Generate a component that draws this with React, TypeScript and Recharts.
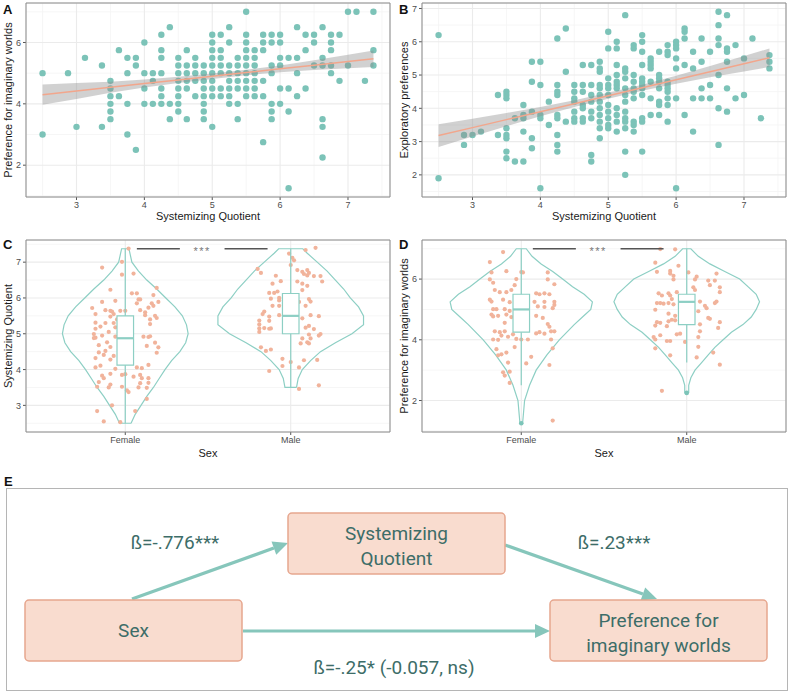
import React from "react"
import {
  ComposedChart,
  Scatter,
  Line,
  Area,
  XAxis,
  YAxis,
  CartesianGrid,
  ReferenceArea,
  ReferenceLine,
} from "recharts"

const FONT = '"Liberation Sans", Arial, Helvetica, sans-serif'
const TEAL = "#7cc3b8"
const SALMON = "#f1b39b"
const FIT_LINE = "#f2a68c"
const VIOLIN = "#8dcfc4"
const GRID = "#ebebeb"
const GRID_MINOR = "#f4f4f4"
const BORDER = "#8c8c8c"
const TICK_TEXT = "#4d4d4d"
const TITLE = "#1a1a1a"

// ---- panels A / B : shared x axis (Systemizing Quotient)
const sqTicks = [3, 4, 5, 6, 7]
const sqMinor = [2.5, 3.5, 4.5, 5.5, 6.5, 7.5]
const sqDomain: [number, number] = [2.256, 7.619]

// A: preference for imaginary worlds, columns of [SQ, values]
const colsA: [number, number[]][] = [
  [2.5, [5, 3]],
  [2.875, [5]],
  [3, [3.25]],
  [3.125, [5.5]],
  [3.375, [5.25, 3.25]],
  [3.5, [4.75, 4.5, 4.25, 4, 3.75, 3.5]],
  [3.625, [5.75, 4.25]],
  [3.75, [5.5, 5, 4, 3]],
  [3.875, [5.5, 5.25, 2.5]],
  [4, [6, 5, 4.5, 4]],
  [4.125, [5, 4.75, 4]],
  [4.25, [6.25, 5.75, 5.5, 5, 4.5, 4.25, 4]],
  [4.375, [6.5, 4, 3.5]],
  [4.5, [5.5, 5.25, 5, 4.75, 4.5, 4.25, 4, 3.75]],
  [4.625, [5.75, 5.25, 5, 4.75, 4.5, 3.5]],
  [4.75, [5.5, 5.25, 5, 4.75, 4.25]],
  [4.875, [5.25, 5, 4.75, 4.5, 4.25, 4, 3.75, 3.5]],
  [5, [6.25, 6, 5.75, 5.5, 5.25, 5, 4.75, 4.5, 4.25, 3.25]],
  [5.125, [6.25, 5.75, 5.5, 5.25, 5, 4.5, 4.25]],
  [5.25, [6.5, 6, 5.25, 5, 4.75, 4.5, 4.25, 4]],
  [5.375, [5.5, 5.25, 5, 4.75, 4.5, 4, 3.5]],
  [5.5, [7, 6.25, 6, 5.75, 5.5, 5.25, 5, 4.75, 4.5, 4.25]],
  [5.625, [5.75, 5.5, 5.25, 5, 4.75, 4.5, 4.25]],
  [5.75, [6.25, 6, 5.75, 4.75, 4.25, 2.75]],
  [5.875, [6.25, 6, 5.25, 5, 4, 3.75, 3.5]],
  [6, [6.25, 6, 5.5, 5.25, 4.5, 4]],
  [6.125, [5.5, 4.5, 3.75, 1.25]],
  [6.25, [6.5, 5.5, 5, 4.25]],
  [6.375, [6.25, 5.75, 4.5]],
  [6.5, [6.25, 6, 5.25]],
  [6.625, [6.5, 5.5, 5.25, 3.5, 3.25, 2.25]],
  [6.75, [6.25, 6, 5.75, 5.25, 5]],
  [6.875, [6.25, 4.75]],
  [7, [7, 5.25]],
  [7.125, [7]],
  [7.25, [4.75]],
  [7.375, [7, 5.75, 5.25]],
]

// B: exploratory preferences
const colsB: [number, number[]][] = [
  [2.5, [6.2, 1.9]],
  [2.875, [3.2, 2.9]],
  [3, [3.2]],
  [3.125, [3.3]],
  [3.375, [4.4, 3.2]],
  [3.5, [4.5, 4.4, 4.3, 3.4, 3.2, 3.1, 2.7, 2.5]],
  [3.625, [3.7, 2.4]],
  [3.75, [4.1, 3.8, 3.7, 3.3, 2.4]],
  [3.875, [5.4, 4.8, 3.9, 3.1, 2.8]],
  [4, [5.4, 4.7, 3.8, 3.7, 1.6]],
  [4.125, [4.2, 3.5]],
  [4.25, [6.1, 4.7, 4.5, 4.4, 3.8, 3.7, 3.2, 2.9, 2.7]],
  [4.375, [6.4, 5.1, 3.6]],
  [4.5, [4.7, 4.5, 4.3, 4.2, 3.9, 3.7, 3.6]],
  [4.625, [5.3, 4.7, 4.5, 4.1, 4.0, 3.7, 3.6]],
  [4.75, [5.3, 4.7, 4.4, 4.2, 3.9, 3.7, 2.6, 2.4]],
  [4.875, [5.4, 5.2, 5.1, 4.7, 4.6, 4.4, 4.2, 4.0, 3.8, 3.6, 3.4, 3.1]],
  [5, [6.3, 5.8, 4.9, 4.7, 4.6, 4.4, 4.1, 3.9, 3.7, 3.5, 3.4]],
  [5.125, [6.0, 5.8, 5.3, 5.0, 4.8, 4.7, 4.6, 4.0, 3.8, 3.6, 3.3]],
  [5.25, [6.8, 5.2, 5.1, 4.9, 4.6, 4.4, 4.2, 3.9, 3.7, 3.6, 3.4, 2.7, 2.0]],
  [5.375, [5.9, 5.8, 5.0, 4.8, 4.6, 4.5, 4.3, 3.6, 3.5, 3.3]],
  [5.5, [6.2, 6.0, 5.7, 5.3, 4.9, 4.8, 4.7, 4.6, 4.4, 3.7, 3.6, 2.7]],
  [5.625, [5.5, 5.4, 5.3, 5.2, 4.8, 4.3, 3.8]],
  [5.75, [5.7, 5.0, 4.9, 4.8, 4.6, 4.2, 4.1, 3.8]],
  [5.875, [5.9, 5.7, 5.6, 4.8, 4.7, 4.6, 4.5, 4.3, 4.1, 3.6]],
  [6, [6.0, 5.9, 5.8, 5.5, 5.2, 4.3, 1.6]],
  [6.125, [6.4, 6.3, 6.1, 5.3, 3.8]],
  [6.25, [5.7, 5.2, 4.3, 3.3]],
  [6.375, [6.1, 5.4, 4.6, 4.3]],
  [6.5, [5.7, 4.7, 4.3]],
  [6.625, [6.9, 6.5, 6.1, 5.9, 5.0, 4.0, 2.9]],
  [6.75, [6.8, 5.8, 5.7, 5.4, 4.6, 3.9]],
  [6.875, [5.9, 4.3]],
  [7, [5.5, 4.4]],
  [7.125, [6.1]],
  [7.25, [3.7]],
  [7.375, [5.6, 5.4, 5.2]],
]

// linear fits with confidence band
const fitX = [2.5, 3, 3.5, 4, 4.5, 5, 5.5, 6, 6.5, 7, 7.375]
const fitAY = [4.3, 4.42, 4.54, 4.66, 4.78, 4.9, 5.02, 5.14, 5.26, 5.38, 5.47]
const fitALo = [3.97, 4.16, 4.36, 4.53, 4.68, 4.81, 4.93, 5.03, 5.1, 5.16, 5.2]
const fitAHi = [4.63, 4.68, 4.72, 4.79, 4.88, 4.99, 5.11, 5.25, 5.42, 5.6, 5.74]
const fitBY = [3.18, 3.42, 3.66, 3.9, 4.14, 4.38, 4.62, 4.86, 5.1, 5.34, 5.52]
const fitBLo = [2.84, 3.15, 3.46, 3.76, 4.04, 4.29, 4.53, 4.74, 4.93, 5.11, 5.24]
const fitBHi = [3.52, 3.69, 3.86, 4.04, 4.24, 4.47, 4.71, 4.98, 5.27, 5.57, 5.8]

// ---- panels C / D : violins by sex
const sexCategories = ["Female", "Male"]

// violin half-widths [value, half width in category units]
const violinCFemale: [number, number][] = [
  [2.5, 0.035], [2.75, 0.06], [3.0, 0.095], [3.25, 0.13], [3.5, 0.17], [3.75, 0.205],
  [4.0, 0.24], [4.25, 0.28], [4.5, 0.33], [4.75, 0.365], [5.0, 0.38], [5.25, 0.37],
  [5.5, 0.345], [5.75, 0.3], [6.0, 0.245], [6.25, 0.19], [6.5, 0.13], [6.75, 0.08],
  [7.0, 0.04], [7.25, 0.028], [7.375, 0.022],
]
const violinCMale: [number, number][] = [
  [3.5, 0.035], [3.75, 0.045], [4.0, 0.07], [4.25, 0.12], [4.5, 0.18], [4.75, 0.27],
  [5.0, 0.37], [5.25, 0.44], [5.5, 0.44], [5.75, 0.41], [6.0, 0.36], [6.25, 0.32],
  [6.5, 0.27], [6.75, 0.22], [7.0, 0.16], [7.25, 0.1], [7.375, 0.073],
]
const violinDFemale: [number, number][] = [
  [1.25, 0.008], [1.5, 0.012], [2.0, 0.02], [2.5, 0.05], [3.0, 0.09], [3.5, 0.155],
  [4.0, 0.23], [4.5, 0.32], [4.75, 0.37], [5.0, 0.42], [5.25, 0.43], [5.5, 0.38],
  [5.75, 0.31], [6.0, 0.25], [6.25, 0.19], [6.5, 0.12], [6.75, 0.065], [7.0, 0.03],
]
const violinDMale: [number, number][] = [
  [2.25, 0.012], [2.5, 0.012], [2.75, 0.025], [3.0, 0.05], [3.25, 0.09], [3.5, 0.13],
  [3.75, 0.17], [4.0, 0.22], [4.25, 0.27], [4.5, 0.34], [4.75, 0.39], [5.0, 0.42],
  [5.25, 0.44], [5.5, 0.42], [5.75, 0.37], [6.0, 0.32], [6.25, 0.23], [6.5, 0.14],
  [6.75, 0.07], [7.0, 0.025],
]

// jittered points [offset from category, value]
const jitterCFemale: [number, number][] = [
  [0.02, 7.38], [-0.02, 7.01], [-0.14, 6.85], [-0.02, 6.65], [0.05, 6.68], [-0.09, 6.23],
  [0.04, 6.13], [0.07, 6.13], [0.19, 6.28], [0.17, 6.08], [0.2, 5.89], [-0.06, 5.92],
  [-0.14, 5.89], [0.08, 5.96], [0.09, 5.96], [0.07, 5.85], [0.14, 5.73], [0.17, 5.78],
  [-0.2, 5.72], [-0.12, 5.66], [-0.09, 5.64], [-0.08, 5.62], [-0.03, 5.64], [0.0, 5.64],
  [-0.07, 5.55], [0.09, 5.66], [0.12, 5.52], [0.18, 5.5], [0.19, 5.44], [0.15, 5.4],
  [-0.18, 5.55], [-0.09, 5.48], [-0.18, 5.31], [-0.12, 5.3], [-0.07, 5.3], [0.15, 5.27],
  [-0.06, 5.18], [-0.18, 5.14], [-0.19, 4.99], [-0.18, 4.89], [-0.19, 4.88], [-0.14, 4.95],
  [-0.06, 4.92], [0.11, 4.92], [0.14, 4.91], [0.15, 4.93], [-0.11, 4.76], [-0.16, 4.68],
  [-0.09, 4.63], [0.13, 4.66], [0.2, 4.62], [0.19, 4.47], [-0.16, 4.48], [-0.12, 4.52],
  [-0.13, 4.41], [-0.07, 4.38], [-0.09, 4.28], [-0.18, 4.32], [-0.15, 4.11], [-0.18, 4.06],
  [0.07, 4.06], [0.1, 4.04], [0.14, 4.13], [-0.06, 4.02], [-0.09, 3.88], [-0.02, 3.85],
  [0.0, 3.87], [-0.14, 3.83], [-0.13, 3.76], [0.05, 3.8], [0.09, 3.85], [0.1, 3.76],
  [0.14, 3.76], [-0.16, 3.65], [-0.09, 3.58], [0.09, 3.62], [0.14, 3.63], [-0.17, 3.52],
  [-0.1, 3.5], [-0.02, 3.52], [0.01, 3.42], [0.02, 3.37], [0.08, 3.5], [0.13, 3.49],
  [0.13, 3.18], [-0.08, 3.0], [-0.17, 2.84], [0.06, 2.84], [-0.13, 2.55], [-0.03, 2.53],
  [-0.15, 5.2], [-0.1, 5.05], [0.12, 5.6], [0.16, 5.85], [-0.05, 5.4], [0.18, 4.75],
]
const jitterCMale: [number, number][] = [
  [0.09, 7.34], [0.15, 7.4], [-0.01, 7.24], [0.01, 7.12], [0.02, 7.05], [0.0, 6.92],
  [-0.2, 6.81], [-0.18, 6.7], [0.04, 6.78], [0.07, 6.73], [0.1, 6.78], [0.11, 6.7],
  [0.08, 6.67], [0.1, 6.63], [0.14, 6.61], [0.18, 6.61], [0.19, 6.46], [-0.09, 6.62],
  [-0.06, 6.47], [-0.11, 6.4], [0.04, 6.46], [0.07, 6.4], [0.1, 6.34], [0.07, 6.22],
  [-0.08, 6.18], [-0.1, 6.14], [-0.13, 6.14], [-0.07, 6.0], [-0.12, 5.98], [-0.07, 5.93],
  [0.11, 5.97], [0.12, 5.9], [0.05, 5.89], [-0.11, 5.78], [-0.07, 5.78], [0.09, 5.78],
  [-0.16, 5.62], [-0.13, 5.48], [-0.07, 5.52], [-0.17, 5.55], [0.12, 5.52], [0.17, 5.49],
  [0.07, 5.43], [-0.19, 5.37], [-0.19, 5.26], [-0.13, 5.36], [-0.19, 5.15], [-0.16, 5.16],
  [-0.13, 5.14], [-0.12, 5.15], [-0.19, 5.05], [0.11, 5.22], [0.14, 5.13], [0.09, 5.17],
  [0.11, 4.98], [0.18, 4.99], [0.17, 4.95], [0.07, 4.87], [0.06, 4.73], [0.1, 4.76],
  [0.12, 4.87], [0.11, 4.73], [-0.18, 4.62], [-0.15, 4.52], [-0.12, 4.56], [-0.05, 4.3],
  [-0.05, 4.1], [0.0, 4.21], [0.08, 4.26], [0.16, 4.27], [-0.13, 3.96], [0.05, 4.06],
  [0.05, 3.46], [0.17, 3.56],
]
const jitterDFemale: [number, number][] = [
  [-0.11, 6.89], [-0.19, 6.56], [-0.18, 6.22], [-0.09, 6.26], [0.0, 6.23], [0.01, 6.22],
  [0.16, 6.22], [0.16, 5.99], [0.2, 5.83], [-0.19, 5.99], [-0.17, 5.88], [-0.03, 6.0],
  [-0.04, 5.8], [-0.16, 5.64], [-0.13, 5.57], [-0.09, 5.57], [-0.06, 5.64], [0.09, 5.53],
  [0.11, 5.5], [0.14, 5.53], [0.17, 5.5], [-0.19, 5.32], [-0.18, 5.26], [-0.11, 5.32],
  [-0.07, 5.24], [0.08, 5.25], [0.14, 5.25], [0.2, 5.25], [0.1, 5.1], [0.14, 5.08],
  [0.19, 5.04], [0.2, 5.15], [-0.17, 5.01], [-0.15, 5.01], [-0.1, 5.01], [-0.07, 4.95],
  [-0.18, 4.83], [-0.17, 4.77], [-0.14, 4.79], [-0.09, 4.83], [-0.06, 4.75], [0.09, 4.79],
  [0.13, 4.72], [-0.1, 4.56], [0.16, 4.52], [0.17, 4.43], [-0.16, 4.28], [-0.13, 4.25],
  [-0.1, 4.28], [-0.17, 4.01], [-0.14, 4.0], [-0.12, 4.14], [-0.08, 4.1], [-0.05, 4.18],
  [-0.03, 4.03], [0.0, 4.01], [0.04, 4.01], [0.09, 4.21], [0.11, 4.25], [0.14, 4.2],
  [0.18, 4.28], [0.18, 4.01], [0.2, 4.28], [-0.04, 3.76], [-0.15, 3.69], [-0.09, 3.58],
  [-0.14, 3.49], [-0.12, 3.52], [-0.08, 3.25], [0.06, 3.44], [0.03, 3.22], [0.17, 3.17],
  [0.19, 3.72], [-0.11, 2.93], [-0.1, 2.82], [-0.07, 2.95], [-0.07, 2.58], [0.19, 1.34],
]
const jitterDMale: [number, number][] = [
  [-0.16, 6.99], [-0.07, 6.98], [-0.19, 6.54], [-0.18, 6.24], [-0.05, 6.44], [-0.1, 6.27],
  [-0.1, 6.18], [-0.08, 6.11], [-0.08, 5.99], [0.01, 6.22], [0.06, 6.08], [0.05, 5.99],
  [0.13, 5.95], [0.18, 6.18], [0.17, 5.95], [0.14, 5.8], [0.04, 5.73], [0.05, 5.64],
  [0.2, 5.73], [0.2, 5.57], [-0.17, 5.53], [-0.15, 5.46], [-0.11, 5.53], [-0.1, 5.46],
  [-0.06, 5.57], [-0.09, 5.34], [-0.18, 5.21], [-0.16, 5.21], [-0.14, 5.19], [-0.11, 5.21],
  [-0.08, 5.17], [0.08, 5.26], [0.11, 5.12], [0.12, 5.04], [0.17, 5.21], [0.18, 5.26],
  [-0.19, 4.99], [0.07, 4.94], [-0.11, 4.86], [-0.07, 4.79], [-0.18, 4.58], [-0.16, 4.56],
  [-0.19, 4.47], [-0.11, 4.61], [-0.09, 4.66], [-0.07, 4.64], [-0.12, 4.45], [0.13, 4.72],
  [0.14, 4.69], [0.08, 4.51], [0.2, 4.58], [0.19, 4.39], [0.08, 4.28], [-0.04, 4.2],
  [-0.06, 4.18], [-0.16, 4.15], [-0.2, 4.09], [-0.19, 4.01], [-0.12, 3.96], [-0.1, 3.96],
  [-0.01, 3.93], [0.07, 4.09], [-0.19, 3.72], [0.07, 3.77], [-0.1, 3.49], [0.06, 3.42],
  [0.16, 3.58], [0.2, 3.18], [-0.15, 2.32],
]

// box statistics per category
const boxC = [
  { c: 1, min: 2.5, q1: 4.125, med: 4.875, q3: 5.5, max: 7.375 },
  { c: 2, min: 3.5, q1: 5, med: 5.5, q3: 6.125, max: 7.375 },
]
const boxD = [
  { c: 1, min: 2.5, q1: 4.25, med: 5, q3: 5.5, max: 7 },
  { c: 2, min: 3.25, q1: 4.5, med: 5.25, q3: 5.5, max: 7 },
]
const outliersD = [
  { x: 1, y: 1.25 },
  { x: 2, y: 2.25 },
]

// ---- panel E : mediation model
const eLabels = {
  sq: ["Systemizing", "Quotient"],
  sex: ["Sex"],
  pref: ["Preference for", "imaginary worlds"],
  aPath: "ß=-.776***",
  bPath: "ß=.23***",
  cPath: "ß=-.25* (-0.057, ns)",
}

const toPoints = (cols: [number, number[]][]) =>
  cols.flatMap(([x, ys]) => ys.map((y) => ({ x, y })))

const fitTable = (ys: number[], lo: number[], hi: number[]) =>
  fitX.map((x, i) => ({ x, y: ys[i], band: [lo[i], hi[i]] }))

const violinOutline = (c: number, profile: [number, number][]) => {
  const right = profile.map(([y, w]) => ({ x: c + w, y }))
  const left = [...profile].reverse().map(([y, w]) => ({ x: c - w, y }))
  return [...right, ...left, right[0]]
}

const jitterPoints = (c: number, pts: [number, number][]) => pts.map(([dx, y]) => ({ x: c + dx, y }))

const tealDot = (p: any) => <circle cx={p.cx} cy={p.cy} r={3.2} fill={TEAL} />
const salmonDot = (p: any) => <circle cx={p.cx} cy={p.cy} r={2.1} fill={SALMON} />
const outlierDot = (p: any) => <circle cx={p.cx} cy={p.cy} r={2.3} fill="#7cc4b8" />
const noDot = () => <g />
const stars = (p: any) => (
  <text x={p.cx} y={p.cy + 6} textAnchor="middle" fontSize={11} fill="#777" letterSpacing={1.5}>
    ***
  </text>
)

const tickStyle = { fontSize: 9, fill: TICK_TEXT }

function ScatterPanel({ points, fit, yLabel, yDomain, yTicks, yMinor }: any) {
  return (
    <ComposedChart width={396} height={222} data={fit} margin={{ top: 3, right: 6, bottom: 0, left: 0 }}>
      <CartesianGrid stroke={GRID_MINOR} strokeWidth={0.8} horizontalValues={yMinor} verticalValues={sqMinor} />
      <CartesianGrid stroke={GRID} strokeWidth={1.1} />
      <XAxis
        type="number"
        dataKey="x"
        domain={sqDomain}
        ticks={sqTicks}
        allowDataOverflow
        axisLine={false}
        tickSize={3}
        tickLine={{ stroke: "#555" }}
        tick={tickStyle}
        height={25}
        label={{ value: "Systemizing Quotient", position: "insideBottom", offset: 2, fontSize: 11, fill: TITLE }}
      />
      <YAxis
        type="number"
        domain={yDomain}
        ticks={yTicks}
        allowDataOverflow
        axisLine={false}
        tickSize={3}
        tickLine={{ stroke: "#555" }}
        tick={tickStyle}
        width={26}
        label={{
          value: yLabel,
          angle: -90,
          position: "insideLeft",
          offset: 8,
          fontSize: 11,
          fill: TITLE,
          style: { textAnchor: "middle" },
        }}
      />
      <Scatter data={points} dataKey="y" shape={tealDot} isAnimationActive={false} zIndex={600} />
      <Area
        dataKey="band"
        stroke="none"
        fill="#8c8c8c"
        fillOpacity={0.4}
        isAnimationActive={false}
        zIndex={700}
      />
      <Line dataKey="y" stroke={FIT_LINE} strokeWidth={1.5} dot={false} isAnimationActive={false} zIndex={800} />
      <ReferenceArea
        x1={sqDomain[0]}
        x2={sqDomain[1]}
        y1={yDomain[0]}
        y2={yDomain[1]}
        fill="none"
        stroke={BORDER}
        ifOverflow="visible"
        zIndex={900}
      />
    </ComposedChart>
  )
}

function ViolinPanel({ yLabel, yDomain, yTicks, yMinor, violins, jitters, boxes, outliers, sigY }: any) {
  const xDomain: [number, number] = [0.4, 2.6]
  return (
    <ComposedChart width={396} height={238} margin={{ top: 18, right: 6, bottom: 0, left: 0 }}>
      <CartesianGrid stroke={GRID_MINOR} strokeWidth={0.8} horizontalValues={yMinor} vertical={false} />
      <CartesianGrid stroke={GRID} strokeWidth={1.1} />
      <XAxis
        type="number"
        dataKey="x"
        domain={xDomain}
        ticks={[1, 2]}
        tickFormatter={(v: number) => sexCategories[v - 1]}
        allowDataOverflow
        axisLine={false}
        tickSize={3}
        tickLine={{ stroke: "#555" }}
        tick={tickStyle}
        height={28}
        label={{ value: "Sex", position: "insideBottom", offset: 3, fontSize: 11, fill: TITLE }}
      />
      <YAxis
        type="number"
        domain={yDomain}
        ticks={yTicks}
        allowDataOverflow
        axisLine={false}
        tickSize={3}
        tickLine={{ stroke: "#555" }}
        tick={tickStyle}
        width={26}
        label={{
          value: yLabel,
          angle: -90,
          position: "insideLeft",
          offset: 8,
          fontSize: 11,
          fill: TITLE,
          style: { textAnchor: "middle" },
        }}
      />
      {violins.map((v: any, i: number) => (
        <Scatter
          key={"v" + i}
          data={v}
          dataKey="y"
          shape={noDot}
          line={{ stroke: VIOLIN, strokeWidth: 1.2 }}
          lineJointType="linear"
          isAnimationActive={false}
          zIndex={600}
        />
      ))}
      {jitters.map((j: any, i: number) => (
        <Scatter key={"j" + i} data={j} dataKey="y" shape={salmonDot} isAnimationActive={false} zIndex={610} />
      ))}
      {boxes.map((b: any) => (
        <ReferenceLine
          key={"w" + b.c}
          segment={[
            { x: b.c, y: b.min },
            { x: b.c, y: b.max },
          ]}
          stroke={VIOLIN}
          strokeWidth={1.2}
          zIndex={690}
        />
      ))}
      {boxes.map((b: any) => (
        <ReferenceArea
          key={"b" + b.c}
          x1={b.c - 0.05}
          x2={b.c + 0.05}
          y1={b.q1}
          y2={b.q3}
          fill="#ffffff"
          fillOpacity={1}
          stroke={VIOLIN}
          strokeWidth={1.2}
          zIndex={700}
        />
      ))}
      {boxes.map((b: any) => (
        <ReferenceLine
          key={"m" + b.c}
          segment={[
            { x: b.c - 0.05, y: b.med },
            { x: b.c + 0.05, y: b.med },
          ]}
          stroke={VIOLIN}
          strokeWidth={2.2}
          zIndex={710}
        />
      ))}
      {outliers && (
        <Scatter data={outliers} dataKey="y" shape={outlierDot} isAnimationActive={false} zIndex={720} />
      )}
      <ReferenceLine
        segment={[
          { x: 1.07, y: sigY },
          { x: 1.33, y: sigY },
        ]}
        stroke="#555"
        strokeWidth={1.6}
        zIndex={730}
      />
      <ReferenceLine
        segment={[
          { x: 1.6, y: sigY },
          { x: 1.86, y: sigY },
        ]}
        stroke="#555"
        strokeWidth={1.6}
        zIndex={730}
      />
      <Scatter data={[{ x: 1.465, y: sigY }]} dataKey="y" shape={stars} isAnimationActive={false} zIndex={740} />
      <ReferenceArea
        x1={xDomain[0]}
        x2={xDomain[1]}
        y1={yDomain[0]}
        y2={yDomain[1]}
        fill="none"
        stroke={BORDER}
        ifOverflow="visible"
        zIndex={900}
      />
    </ComposedChart>
  )
}

function Arrow({ x1, y1, x2, y2 }: { x1: number; y1: number; x2: number; y2: number }) {
  const a = Math.atan2(y2 - y1, x2 - x1)
  const len = 15
  const half = 7
  const bx = x2 - len * Math.cos(a)
  const by = y2 - len * Math.sin(a)
  const px = -Math.sin(a) * half
  const py = Math.cos(a) * half
  return (
    <g>
      <line x1={x1} y1={y1} x2={bx} y2={by} stroke="#86c6bb" strokeWidth={3.2} />
      <polygon points={`${x2},${y2} ${bx + px},${by + py} ${bx - px},${by - py}`} fill="#86c6bb" />
    </g>
  )
}

function MediationDiagram() {
  const boxFill = "#f9dccf"
  const boxStroke = "#e6a68e"
  const textColor = "#3d6d68"
  const font = "Roboto, 'Noto Sans', sans-serif"
  const node = (x: number, y: number, lines: string[], cy: number[]) => (
    <g>
      <rect x={x} y={y} width={217} height={61} rx={4} fill={boxFill} stroke={boxStroke} strokeWidth={1.5} />
      {lines.map((t, i) => (
        <text key={t} x={x + 108.5} y={cy[i]} textAnchor="middle" fontSize={19} fill={textColor} fontFamily={font}>
          {t}
        </text>
      ))}
    </g>
  )
  return (
    <svg width={792} height={225} style={{ position: "absolute", left: 0, top: 470 }}>
      <text x={4} y={16} fontSize={13} fontWeight="bold" fill="#111" fontFamily={FONT}>
        E
      </text>
      <rect x={6.5} y={18.5} width={781} height={202} fill="none" stroke="#b5b5b5" strokeWidth={1} />
      <Arrow x1={132} y1={129} x2={288} y2={73} />
      <Arrow x1={505} y1={75} x2={657} y2={129} />
      <Arrow x1={243} y1={161} x2={550} y2={161} />
      {node(288, 43, eLabels.sq, [70, 95])}
      {node(25, 130, eLabels.sex, [167])}
      {node(550, 130, eLabels.pref, [157, 182])}
      <text x={175} y={79} textAnchor="middle" fontSize={19} fill={textColor} fontFamily={font}>
        {eLabels.aPath}
      </text>
      <text x={614} y={79} textAnchor="middle" fontSize={19} fill={textColor} fontFamily={font}>
        {eLabels.bPath}
      </text>
      <text x={394} y={204} textAnchor="middle" fontSize={19} fill={textColor} fontFamily={font}>
        {eLabels.cPath}
      </text>
    </svg>
  )
}

const letterStyle = (left: number, top: number): React.CSSProperties => ({
  position: "absolute",
  left,
  top,
  fontSize: 13,
  fontWeight: "bold",
  lineHeight: "13px",
  color: "#111",
})

export default function App() {
  const pointsA = toPoints(colsA)
  const pointsB = toPoints(colsB)
  const fitA = fitTable(fitAY, fitALo, fitAHi)
  const fitB = fitTable(fitBY, fitBLo, fitBHi)

  return (
    <div
      style={{
        position: "absolute",
        left: 0,
        top: 0,
        width: 792,
        height: 695,
        background: "#fff",
        fontFamily: FONT,
        overflow: "hidden",
      }}
    >
      <div style={{ position: "absolute", left: 0, top: 0 }}>
        <ScatterPanel
          points={pointsA}
          fit={fitA}
          yLabel="Preference for imaginary worlds"
          yDomain={[0.9625, 7.2875]}
          yTicks={[2, 4, 6]}
          yMinor={[1, 3, 5, 7]}
        />
      </div>
      <div style={{ position: "absolute", left: 396, top: 0 }}>
        <ScatterPanel
          points={pointsB}
          fit={fitB}
          yLabel="Exploratory preferences"
          yDomain={[1.335, 7.165]}
          yTicks={[2, 3, 4, 5, 6, 7]}
          yMinor={[1.5, 2.5, 3.5, 4.5, 5.5, 6.5]}
        />
      </div>
      <div style={{ position: "absolute", left: 0, top: 222 }}>
        <ViolinPanel
          yLabel="Systemizing Quotient"
          yDomain={[2.256, 7.619]}
          yTicks={[3, 4, 5, 6, 7]}
          yMinor={[2.5, 3.5, 4.5, 5.5, 6.5, 7.5]}
          violins={[violinOutline(1, violinCFemale), violinOutline(2, violinCMale)]}
          jitters={[jitterPoints(1, jitterCFemale), jitterPoints(2, jitterCMale)]}
          boxes={boxC}
          sigY={7.375}
        />
      </div>
      <div style={{ position: "absolute", left: 396, top: 222 }}>
        <ViolinPanel
          yLabel="Preference for imaginary worlds"
          yDomain={[0.9625, 7.2875]}
          yTicks={[2, 4, 6]}
          yMinor={[1, 3, 5, 7]}
          violins={[violinOutline(1, violinDFemale), violinOutline(2, violinDMale)]}
          jitters={[jitterPoints(1, jitterDFemale), jitterPoints(2, jitterDMale)]}
          boxes={boxD}
          outliers={outliersD}
          sigY={7}
        />
      </div>
      <div style={letterStyle(3, 3)}>A</div>
      <div style={letterStyle(399, 3)}>B</div>
      <div style={letterStyle(3, 238)}>C</div>
      <div style={letterStyle(399, 238)}>D</div>
      <MediationDiagram />
    </div>
  )
}
